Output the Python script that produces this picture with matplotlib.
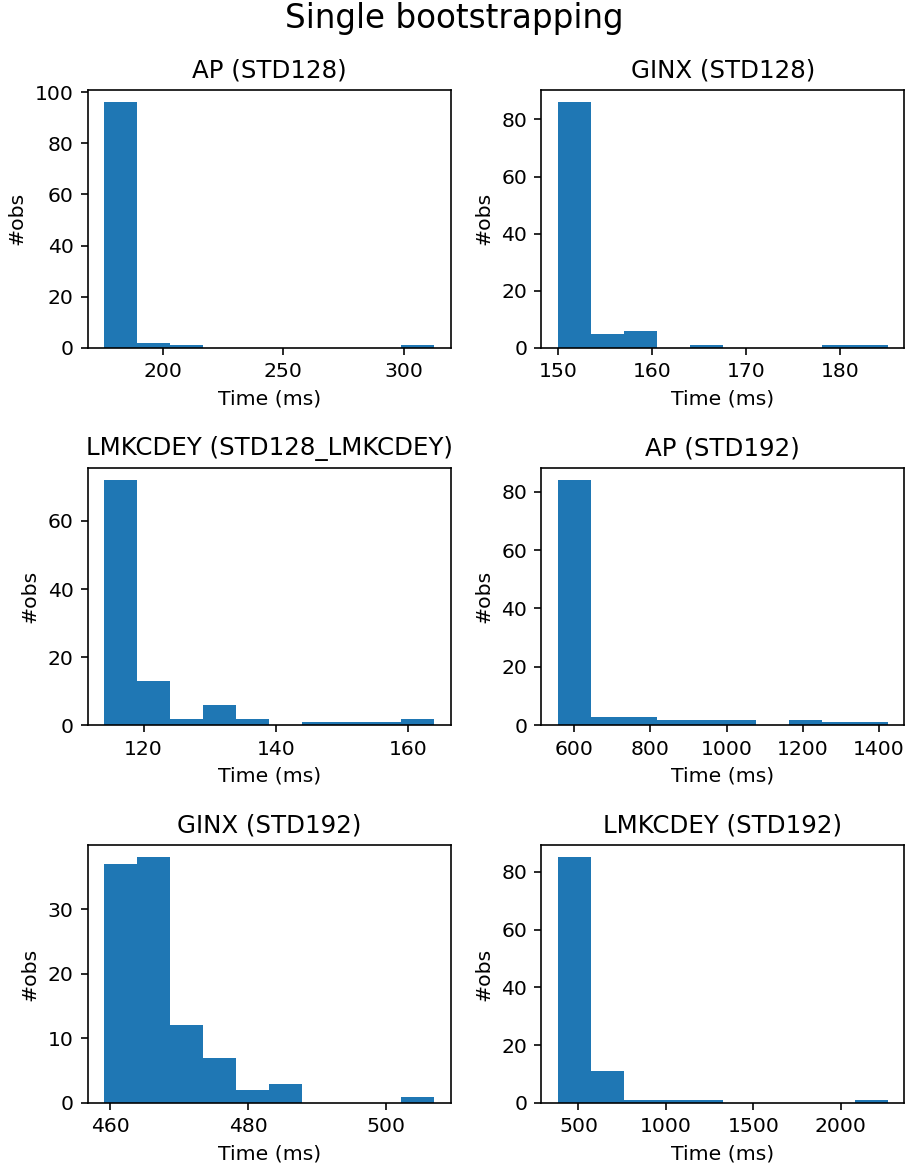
import numpy as np
import matplotlib
matplotlib.use("Agg")
import matplotlib.pyplot as plt

# Panel titles
titles = ["AP (STD128)", "GINX (STD128)", "LMKCDEY (STD128_LMKCDEY)",
          "AP (STD192)", "GINX (STD192)", "LMKCDEY (STD192)"]

# Histogram ranges (min, max of timings, ms) - 10 equal bins each
ap128_range = (175.8, 312.5)
ginx128_range = (150.0, 185.0)
lmk128_range = (114.1, 163.9)
ap192_range = (558.0, 1422.0)
ginx192_range = (459.2, 506.9)
lmk192_range = (383.0, 2267.0)

# Counts per bin (100 observations each)
ap128_counts = [96, 2, 1, 0, 0, 0, 0, 0, 0, 1]
ginx128_counts = [86, 5, 6, 0, 1, 0, 0, 0, 1, 1]
lmk128_counts = [72, 13, 2, 6, 2, 0, 1, 1, 1, 2]
ap192_counts = [84, 3, 3, 2, 2, 2, 0, 2, 1, 1]
ginx192_counts = [37, 38, 12, 7, 2, 3, 0, 0, 0, 1]
lmk192_counts = [85, 11, 1, 1, 1, 0, 0, 0, 0, 1]

ranges = [ap128_range, ginx128_range, lmk128_range,
          ap192_range, ginx192_range, lmk192_range]
counts = [ap128_counts, ginx128_counts, lmk128_counts,
          ap192_counts, ginx192_counts, lmk192_counts]

DPI = 147
fig, axes = plt.subplots(3, 2, figsize=(909 / DPI, 1171 / DPI), dpi=DPI)
fig.suptitle("Single bootstrapping", fontsize=16, y=0.998)

for ax, title, rng, cnt in zip(axes.flat, titles, ranges, counts):
    edges = np.linspace(rng[0], rng[1], len(cnt) + 1)
    centers = (edges[:-1] + edges[1:]) / 2
    ax.hist(centers, bins=edges, weights=cnt)
    ax.set_title(title)
    ax.set_xlabel("Time (ms)")
    ax.set_ylabel("#obs")

plt.subplots_adjust(left=0.0968, right=0.9945, bottom=0.0581, top=0.9231,
                    wspace=0.251, hspace=0.465)
fig.savefig("out.png", dpi=DPI)
